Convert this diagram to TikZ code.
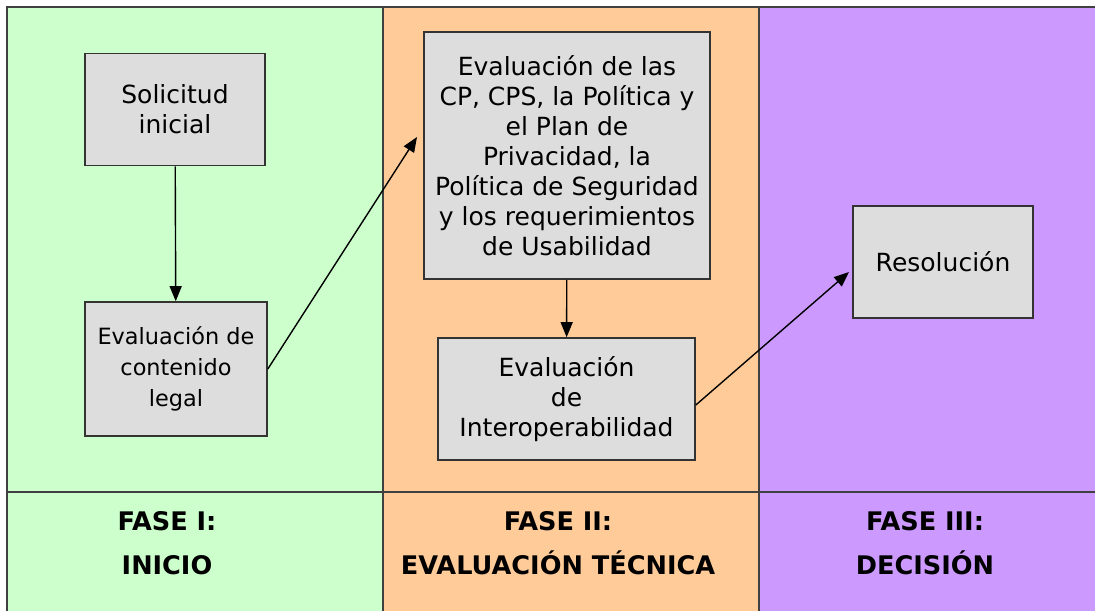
\documentclass[tikz,border=0pt]{standalone}
\usepackage{fontspec}
\setmainfont{DejaVu Sans}
\usetikzlibrary{arrows.meta}
\definecolor{inicio}{HTML}{CCFFCC}
\definecolor{tecnica}{HTML}{FFCC99}
\definecolor{decision}{HTML}{CC99FF}
\definecolor{caja}{HTML}{DDDDDD}
\begin{document}
\begin{tikzpicture}[x=0.5pt,y=-0.5pt,
  box/.style={draw=black!80,line width=0.8pt,fill=caja,align=center,inner sep=0pt,
    font=\fontsize{12.5}{15}\selectfont},
  fase/.style={align=center,font=\fontsize{12.8}{22}\selectfont\bfseries},
  flow/.style={-{Triangle[length=7.5pt,width=6pt]},line width=0.7pt}]
  \useasboundingbox (0,0) rectangle (1095,611);
  \fill[white] (0,0) rectangle (1095,611);
  \fill[inicio] (7,7) rectangle (383,611);
  \fill[tecnica] (383,7) rectangle (759,611);
  \fill[decision] (759,7) rectangle (1095,611);
  \draw[line width=1pt,black!75] (7,611) -- (7,7) -- (1095,7);
  \draw[line width=1pt,black!75] (383,7) -- (383,611) (759,7) -- (759,611) (7,492) -- (1095,492);
  % cajas
  \node[box,minimum width=90pt,minimum height=56pt] (sol) at (175,109.5) {Solicitud\\inicial};
  \node[box,minimum width=91pt,minimum height=67pt,font=\fontsize{11.2}{15.5}\selectfont] (legal) at (176,369)
    {Evaluación de\\contenido\\legal};
  \node[box,minimum width=143pt,minimum height=123.5pt] (cp) at (567,155.5)
    {Evaluación de las\\CP, CPS, la Política y\\el Plan de\\Privacidad, la\\Política de Seguridad\\y los requerimientos\\de Usabilidad};
  \node[box,minimum width=128.5pt,minimum height=61pt] (inter) at (566.5,399) {Evaluación\\de\\Interoperabilidad};
  \node[box,minimum width=90pt,minimum height=56pt] (res) at (943,262) {Resolución};
  \coordinate (t1) at (417,137);
  \coordinate (t2) at (849,272);
  % flechas
  \draw[flow] (sol) -- (legal);
  \draw[flow] (legal.east) -- (t1);
  \draw[flow] (cp) -- (inter);
  \draw[flow] ([yshift=-3pt]inter.east) -- (t2);
  % fases
  \node[fase] (f1) at (167,543) {FASE I:\\INICIO};
  \node[fase] (f2) at (558,543) {FASE II:\\EVALUACIÓN TÉCNICA};
  \node[fase] (f3) at (925,543) {FASE III:\\DECISIÓN};
\end{tikzpicture}
\end{document}
